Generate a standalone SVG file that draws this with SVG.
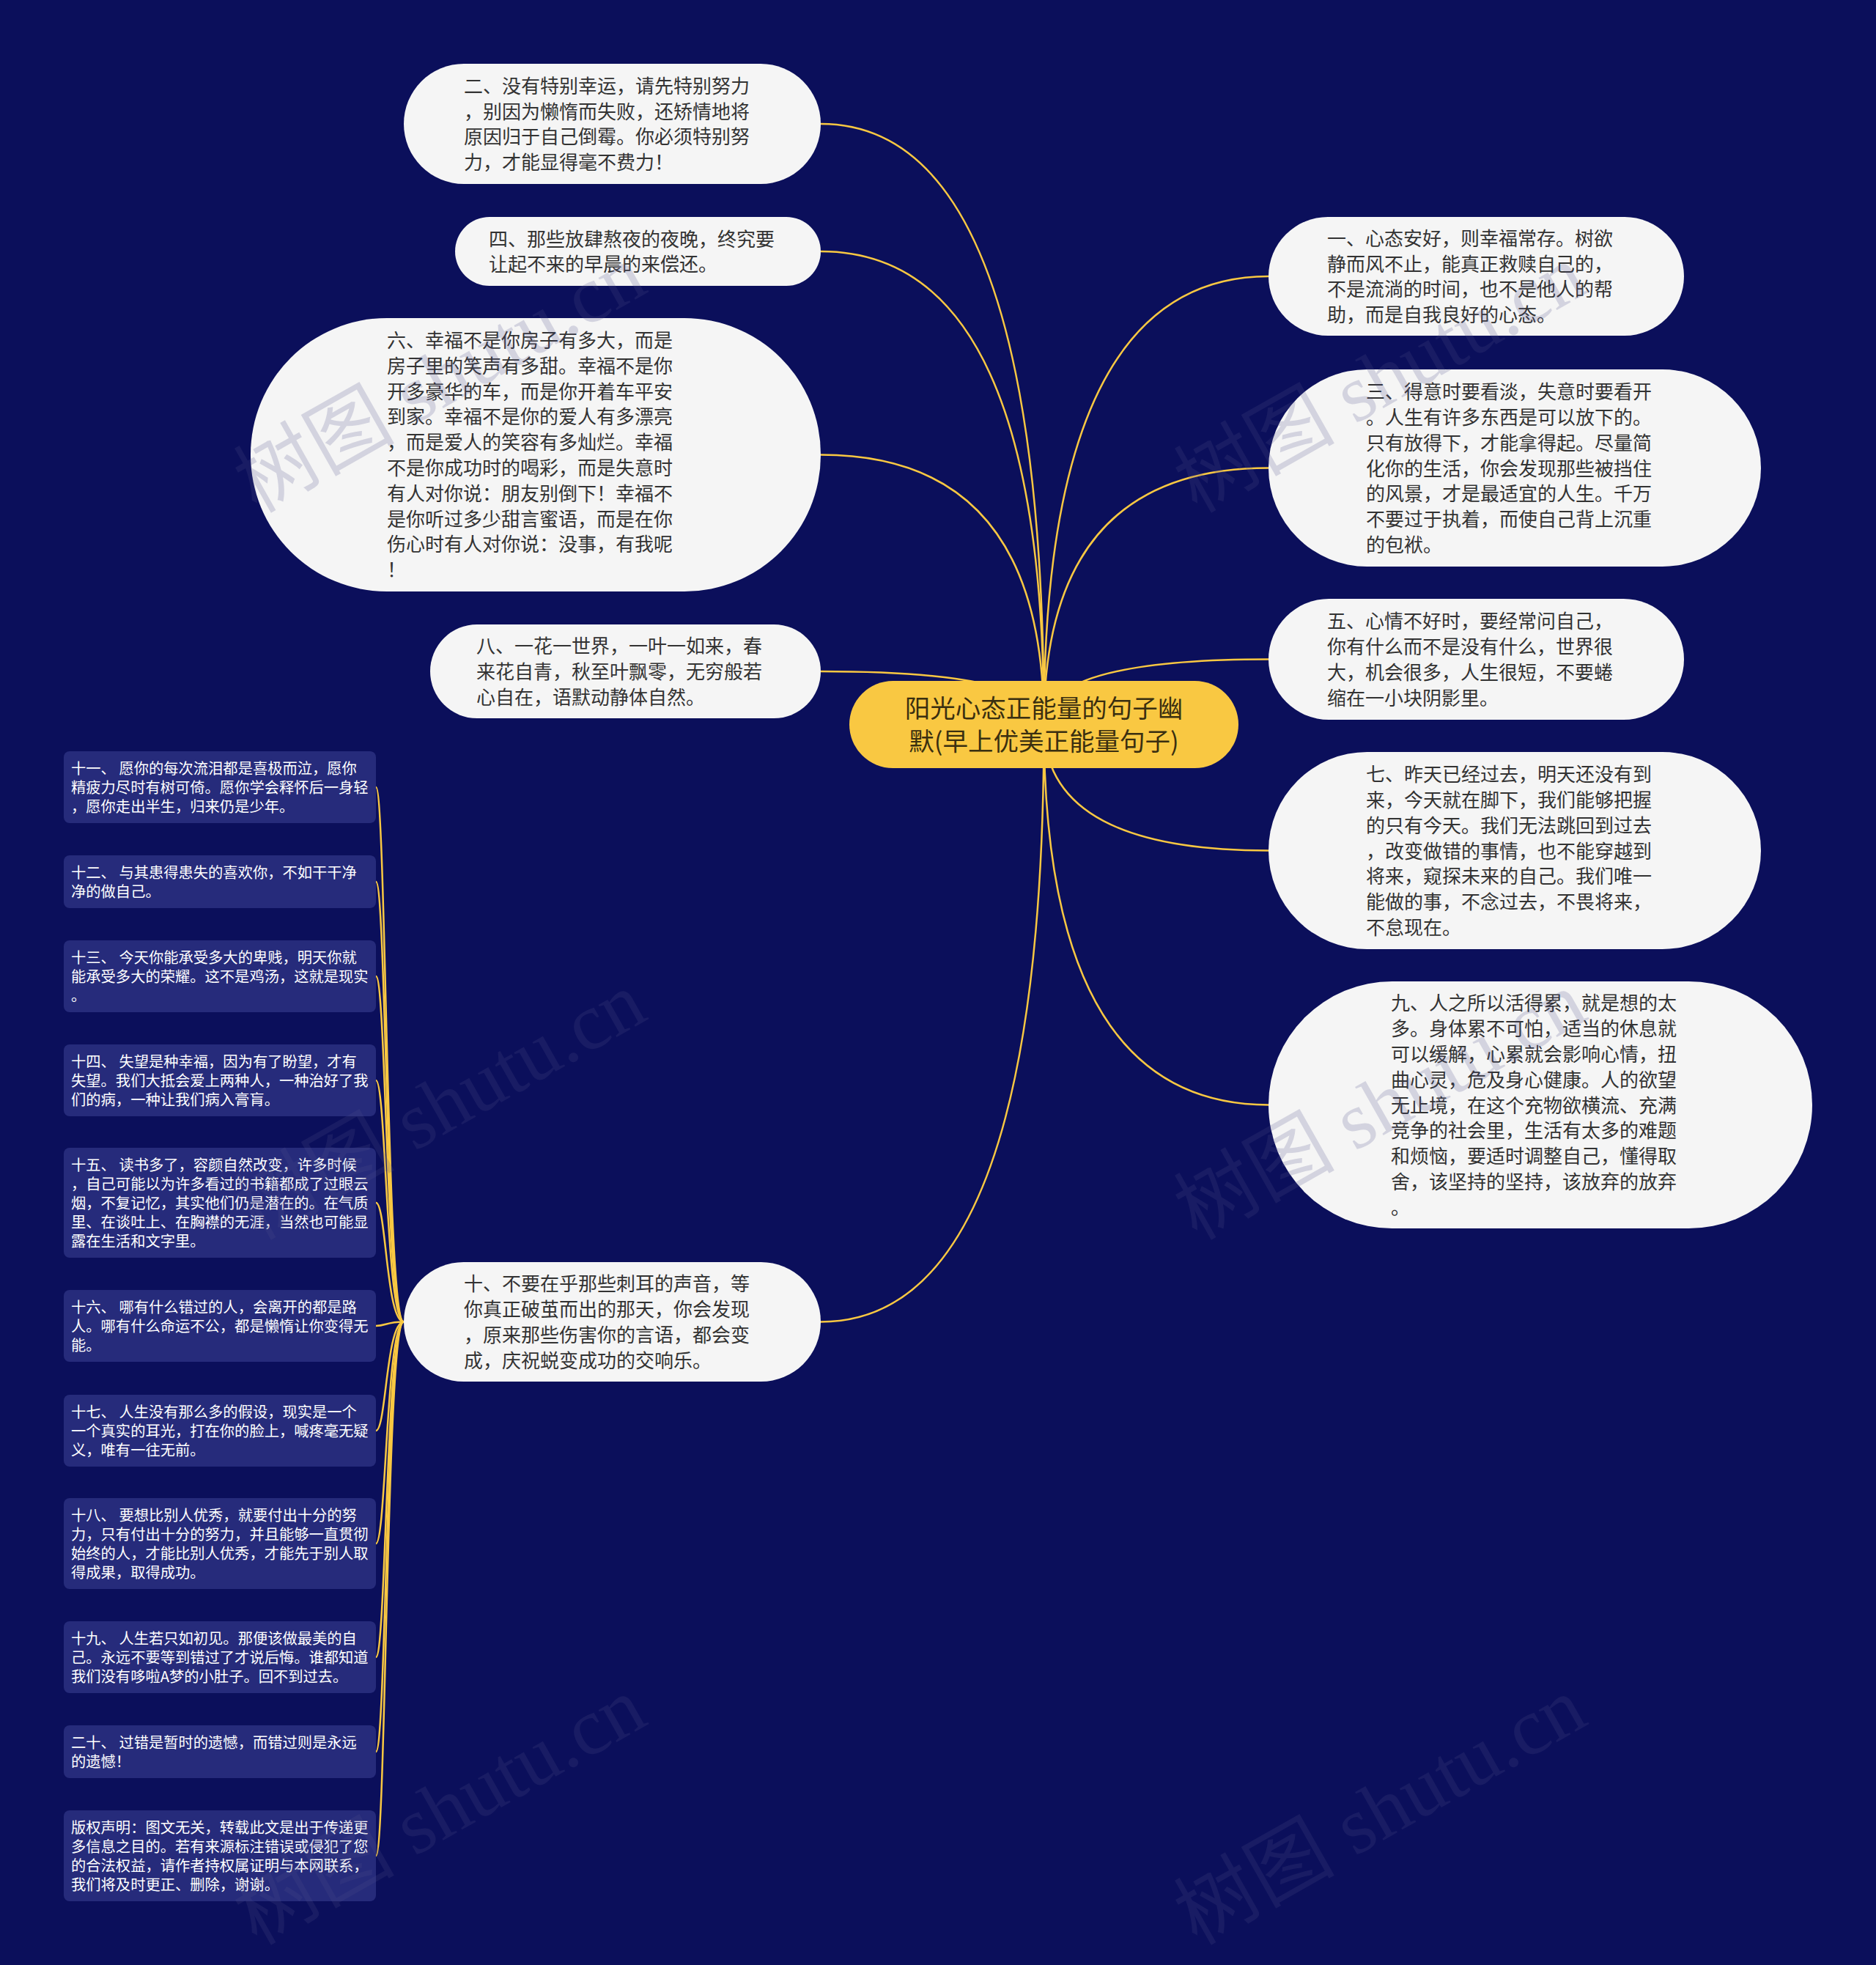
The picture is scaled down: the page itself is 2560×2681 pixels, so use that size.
<svg xmlns="http://www.w3.org/2000/svg" width="2560" height="2681" viewBox="0 0 2560 2681">
<style>
.wn{fill:#f5f5f5}
.sn{fill:#262b7b}
.cn{fill:#f9c842}
.t{font-family:"Noto Sans CJK SC","Noto Sans",sans-serif;font-size:26px;fill:#333333}
.st{font-family:"Noto Sans CJK SC","Noto Sans",sans-serif;font-size:20.3px;fill:#ffffff}
.ct{font-family:"Noto Sans CJK SC","Noto Sans",sans-serif;font-size:34.5px;fill:#3a2f10}
.e{fill:none;stroke:#f9c842;stroke-width:2.5}
.wm{font-family:"Liberation Serif","Noto Sans CJK SC",serif;font-size:110px;fill:#50508a;opacity:0.2}
</style>
<rect x="0" y="0" width="2560" height="2681" fill="#0b0f5b"/>
<g id="connectors">
<path class="e" d="M1424.5,988.5 Q1424.5,169 1120,169"/>
<path class="e" d="M1424.5,988.5 Q1424.5,343 1120,343"/>
<path class="e" d="M1424.5,988.5 Q1424.5,620.5 1120,620.5"/>
<path class="e" d="M1424.5,988.5 Q1424.5,916 1120,916"/>
<path class="e" d="M1424.5,988.5 Q1424.5,1803.5 1120,1803.5"/>
<path class="e" d="M1424.5,988.5 Q1424.5,377 1731,377"/>
<path class="e" d="M1424.5,988.5 Q1424.5,638.5 1731,638.5"/>
<path class="e" d="M1424.5,988.5 Q1424.5,899.5 1731,899.5"/>
<path class="e" d="M1424.5,988.5 Q1424.5,1160.5 1731,1160.5"/>
<path class="e" d="M1424.5,988.5 Q1424.5,1507.5 1731,1507.5"/>
<path class="e" d="M551,1803.5 C527,1803.5 527,1074 513,1074"/>
<path class="e" d="M551,1803.5 C527,1803.5 527,1203 513,1203"/>
<path class="e" d="M551,1803.5 C527,1803.5 527,1332 513,1332"/>
<path class="e" d="M551,1803.5 C527,1803.5 527,1474 513,1474"/>
<path class="e" d="M551,1803.5 C527,1803.5 527,1641 513,1641"/>
<path class="e" d="M551,1803.5 C527,1803.5 527,1809 513,1809"/>
<path class="e" d="M551,1803.5 C527,1803.5 527,1952 513,1952"/>
<path class="e" d="M551,1803.5 C527,1803.5 527,2106 513,2106"/>
<path class="e" d="M551,1803.5 C527,1803.5 527,2261 513,2261"/>
<path class="e" d="M551,1803.5 C527,1803.5 527,2390 513,2390"/>
<path class="e" d="M551,1803.5 C527,1803.5 527,2532 513,2532"/>
</g>
<g id="center">
<rect class="cn" x="1159" y="929" width="531" height="119" rx="59.5"/>
<text class="ct" text-anchor="middle"><tspan x="1424.5" y="979">阳光心态正能量的句子幽</tspan><tspan x="1424.5" y="1024">默(早上优美正能量句子)</tspan></text>
</g>
<g id="n2">
<rect class="wn" x="551" y="87" width="569" height="164" rx="82"/>
<text class="t"><tspan x="633" y="127">二、没有特别幸运，请先特别努力</tspan><tspan x="633" y="162">，别因为懒惰而失败，还矫情地将</tspan><tspan x="633" y="196">原因归于自己倒霉。你必须特别努</tspan><tspan x="633" y="231">力，才能显得毫不费力！</tspan></text>
</g>
<g id="n4">
<rect class="wn" x="621" y="296" width="499" height="94" rx="47"/>
<text class="t"><tspan x="667" y="336">四、那些放肆熬夜的夜晚，终究要</tspan><tspan x="667" y="370">让起不来的早晨的来偿还。</tspan></text>
</g>
<g id="n6">
<rect class="wn" x="342" y="434" width="778" height="373" rx="186"/>
<text class="t"><tspan x="528" y="474">六、幸福不是你房子有多大，而是</tspan><tspan x="528" y="509">房子里的笑声有多甜。幸福不是你</tspan><tspan x="528" y="544">开多豪华的车，而是你开着车平安</tspan><tspan x="528" y="578">到家。幸福不是你的爱人有多漂亮</tspan><tspan x="528" y="613">，而是爱人的笑容有多灿烂。幸福</tspan><tspan x="528" y="648">不是你成功时的喝彩，而是失意时</tspan><tspan x="528" y="683">有人对你说：朋友别倒下！幸福不</tspan><tspan x="528" y="718">是你听过多少甜言蜜语，而是在你</tspan><tspan x="528" y="752">伤心时有人对你说：没事，有我呢</tspan><tspan x="528" y="787">！</tspan></text>
</g>
<g id="n8">
<rect class="wn" x="587" y="852" width="533" height="128" rx="64"/>
<text class="t"><tspan x="650" y="891">八、一花一世界，一叶一如来，春</tspan><tspan x="650" y="926">来花自青，秋至叶飘零，无穷般若</tspan><tspan x="650" y="961">心自在，语默动静体自然。</tspan></text>
</g>
<g id="n10">
<rect class="wn" x="551" y="1722" width="569" height="163" rx="81.5"/>
<text class="t"><tspan x="633" y="1761">十、不要在乎那些刺耳的声音，等</tspan><tspan x="633" y="1796">你真正破茧而出的那天，你会发现</tspan><tspan x="633" y="1831">，原来那些伤害你的言语，都会变</tspan><tspan x="633" y="1866">成，庆祝蜕变成功的交响乐。</tspan></text>
</g>
<g id="n1">
<rect class="wn" x="1731" y="296" width="567" height="162" rx="81"/>
<text class="t"><tspan x="1811" y="335">一、心态安好，则幸福常存。树欲</tspan><tspan x="1811" y="370">静而风不止，能真正救赎自己的，</tspan><tspan x="1811" y="404">不是流淌的时间，也不是他人的帮</tspan><tspan x="1811" y="439">助，而是自我良好的心态。</tspan></text>
</g>
<g id="n3">
<rect class="wn" x="1731" y="504" width="672" height="269" rx="134.5"/>
<text class="t"><tspan x="1864" y="544">三、得意时要看淡，失意时要看开</tspan><tspan x="1864" y="579">。人生有许多东西是可以放下的。</tspan><tspan x="1864" y="614">只有放得下，才能拿得起。尽量简</tspan><tspan x="1864" y="649">化你的生活，你会发现那些被挡住</tspan><tspan x="1864" y="683">的风景，才是最适宜的人生。千万</tspan><tspan x="1864" y="718">不要过于执着，而使自己背上沉重</tspan><tspan x="1864" y="753">的包袱。</tspan></text>
</g>
<g id="n5">
<rect class="wn" x="1731" y="817" width="567" height="165" rx="82.5"/>
<text class="t"><tspan x="1811" y="857">五、心情不好时，要经常问自己，</tspan><tspan x="1811" y="892">你有什么而不是没有什么，世界很</tspan><tspan x="1811" y="927">大，机会很多，人生很短，不要蜷</tspan><tspan x="1811" y="962">缩在一小块阴影里。</tspan></text>
</g>
<g id="n7">
<rect class="wn" x="1731" y="1026" width="672" height="269" rx="134.5"/>
<text class="t"><tspan x="1864" y="1066">七、昨天已经过去，明天还没有到</tspan><tspan x="1864" y="1101">来，今天就在脚下，我们能够把握</tspan><tspan x="1864" y="1136">的只有今天。我们无法跳回到过去</tspan><tspan x="1864" y="1171">，改变做错的事情，也不能穿越到</tspan><tspan x="1864" y="1205">将来，窥探未来的自己。我们唯一</tspan><tspan x="1864" y="1240">能做的事，不念过去，不畏将来，</tspan><tspan x="1864" y="1275">不怠现在。</tspan></text>
</g>
<g id="n9">
<rect class="wn" x="1731" y="1339" width="742" height="337" rx="168.5"/>
<text class="t"><tspan x="1898" y="1378">九、人之所以活得累，就是想的太</tspan><tspan x="1898" y="1413">多。身体累不可怕，适当的休息就</tspan><tspan x="1898" y="1448">可以缓解，心累就会影响心情，扭</tspan><tspan x="1898" y="1483">曲心灵，危及身心健康。人的欲望</tspan><tspan x="1898" y="1518">无止境，在这个充物欲横流、充满</tspan><tspan x="1898" y="1552">竞争的社会里，生活有太多的难题</tspan><tspan x="1898" y="1587">和烦恼，要适时调整自己，懂得取</tspan><tspan x="1898" y="1622">舍，该坚持的坚持，该放弃的放弃</tspan><tspan x="1898" y="1657">。</tspan></text>
</g>
<g id="n11">
<rect class="sn" x="87" y="1025" width="426" height="98" rx="8"/>
<text class="st"><tspan x="97" y="1055.5">十一、 愿你的每次流泪都是喜极而泣，愿你</tspan><tspan x="97" y="1081.5">精疲力尽时有树可倚。愿你学会释怀后一身轻</tspan><tspan x="97" y="1107.5">，愿你走出半生，归来仍是少年。</tspan></text>
</g>
<g id="n12">
<rect class="sn" x="87" y="1167" width="426" height="72" rx="8"/>
<text class="st"><tspan x="97" y="1197.5">十二、 与其患得患失的喜欢你，不如干干净</tspan><tspan x="97" y="1223.5">净的做自己。</tspan></text>
</g>
<g id="n13">
<rect class="sn" x="87" y="1283" width="426" height="98" rx="8"/>
<text class="st"><tspan x="97" y="1313.5">十三、 今天你能承受多大的卑贱，明天你就</tspan><tspan x="97" y="1339.5">能承受多大的荣耀。这不是鸡汤，这就是现实</tspan><tspan x="97" y="1365.5">。</tspan></text>
</g>
<g id="n14">
<rect class="sn" x="87" y="1425" width="426" height="98" rx="8"/>
<text class="st"><tspan x="97" y="1455.5">十四、 失望是种幸福，因为有了盼望，才有</tspan><tspan x="97" y="1481.5">失望。我们大抵会爱上两种人，一种治好了我</tspan><tspan x="97" y="1507.5">们的病，一种让我们病入膏肓。</tspan></text>
</g>
<g id="n15">
<rect class="sn" x="87" y="1566" width="426" height="150" rx="8"/>
<text class="st"><tspan x="97" y="1596.5">十五、 读书多了，容颜自然改变，许多时候</tspan><tspan x="97" y="1622.5">，自己可能以为许多看过的书籍都成了过眼云</tspan><tspan x="97" y="1648.5">烟，不复记忆，其实他们仍是潜在的。在气质</tspan><tspan x="97" y="1674.5">里、在谈吐上、在胸襟的无涯，当然也可能显</tspan><tspan x="97" y="1700.5">露在生活和文字里。</tspan></text>
</g>
<g id="n16">
<rect class="sn" x="87" y="1760" width="426" height="98" rx="8"/>
<text class="st"><tspan x="97" y="1790.5">十六、 哪有什么错过的人，会离开的都是路</tspan><tspan x="97" y="1816.5">人。哪有什么命运不公，都是懒惰让你变得无</tspan><tspan x="97" y="1842.5">能。</tspan></text>
</g>
<g id="n17">
<rect class="sn" x="87" y="1903" width="426" height="98" rx="8"/>
<text class="st"><tspan x="97" y="1933.5">十七、 人生没有那么多的假设，现实是一个</tspan><tspan x="97" y="1959.5">一个真实的耳光，打在你的脸上，喊疼毫无疑</tspan><tspan x="97" y="1985.5">义，唯有一往无前。</tspan></text>
</g>
<g id="n18">
<rect class="sn" x="87" y="2044" width="426" height="124" rx="8"/>
<text class="st"><tspan x="97" y="2074.5">十八、 要想比别人优秀，就要付出十分的努</tspan><tspan x="97" y="2100.5">力，只有付出十分的努力，并且能够一直贯彻</tspan><tspan x="97" y="2126.5">始终的人，才能比别人优秀，才能先于别人取</tspan><tspan x="97" y="2152.5">得成果，取得成功。</tspan></text>
</g>
<g id="n19">
<rect class="sn" x="87" y="2212" width="426" height="98" rx="8"/>
<text class="st"><tspan x="97" y="2242.5">十九、 人生若只如初见。那便该做最美的自</tspan><tspan x="97" y="2268.5">己。永远不要等到错过了才说后悔。谁都知道</tspan><tspan x="97" y="2294.5">我们没有哆啦A梦的小肚子。回不到过去。</tspan></text>
</g>
<g id="n20">
<rect class="sn" x="87" y="2354" width="426" height="72" rx="8"/>
<text class="st"><tspan x="97" y="2384.5">二十、 过错是暂时的遗憾，而错过则是永远</tspan><tspan x="97" y="2410.5">的遗憾！</tspan></text>
</g>
<g id="copyright">
<rect class="sn" x="87" y="2470" width="426" height="124" rx="8"/>
<text class="st"><tspan x="97" y="2500.5">版权声明：图文无关，转载此文是出于传递更</tspan><tspan x="97" y="2526.5">多信息之目的。若有来源标注错误或侵犯了您</tspan><tspan x="97" y="2552.5">的合法权益，请作者持权属证明与本网联系，</tspan><tspan x="97" y="2578.5">我们将及时更正、删除，谢谢。</tspan></text>
</g>
<g id="watermark">
<text class="wm" transform="translate(350,701) rotate(-29.5)">树图 shutu.cn</text>
<text class="wm" transform="translate(1633,701) rotate(-29.5)">树图 shutu.cn</text>
<text class="wm" transform="translate(350,1693) rotate(-29.5)">树图 shutu.cn</text>
<text class="wm" transform="translate(1633,1693) rotate(-29.5)">树图 shutu.cn</text>
<text class="wm" transform="translate(350,2655) rotate(-29.5)">树图 shutu.cn</text>
<text class="wm" transform="translate(1633,2655) rotate(-29.5)">树图 shutu.cn</text>
</g>
</svg>
